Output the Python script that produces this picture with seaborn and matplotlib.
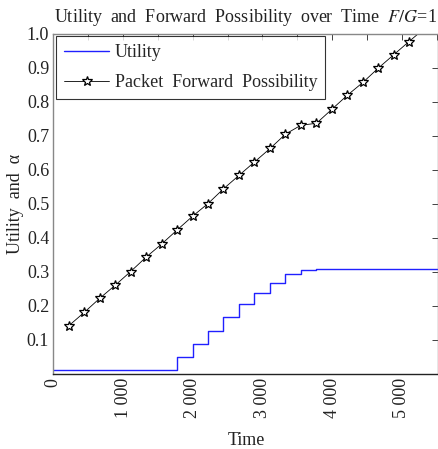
import matplotlib
matplotlib.use("Agg")
import matplotlib.pyplot as plt
import seaborn as sns
import pandas as pd
from matplotlib.ticker import MultipleLocator, FixedLocator

# ---- data ----
time_fwd = [220, 445, 665, 890, 1110, 1330, 1555, 1775, 2000, 2220, 2440, 2665,
            2885, 3110, 3330, 3550, 3775, 3995, 4215, 4440, 4660, 4880, 5100, 5325]
fwd_prob = [0.140, 0.180, 0.221, 0.260, 0.300, 0.342, 0.381, 0.422, 0.463, 0.500,
            0.543, 0.583, 0.622, 0.662, 0.704, 0.730, 0.736, 0.777, 0.818, 0.856,
            0.898, 0.937, 0.976, 1.015]

time_util = [0, 1775, 2000, 2220, 2440, 2665, 2885, 3110, 3330, 3550, 3775, 5600]
utility = [0.010, 0.048, 0.086, 0.124, 0.165, 0.204, 0.238, 0.267, 0.292, 0.304,
           0.307, 0.307]

x_major = [0, 1000, 2000, 3000, 4000, 5000]
x_labels = ["0", "1 000", "2 000", "3 000", "4 000", "5 000"]
y_ticks = [0.1, 0.2, 0.3, 0.4, 0.5, 0.6, 0.7, 0.8, 0.9, 1.0]
y_labels = ["0.1", "0.2", "0.3", "0.4", "0.5", "0.6", "0.7", "0.8", "0.9", "1.0"]

sns.set_style("white")
plt.rcParams["font.family"] = ["Liberation Serif", "DejaVu Serif"]
plt.rcParams["mathtext.fontset"] = "stix"

fig = plt.figure(figsize=(4.38, 4.49), dpi=100)
ax = fig.add_axes([53.3 / 438, 75.5 / 449, 385.2 / 438, 340 / 449])

df_u = pd.DataFrame({"t": time_util, "v": utility})
df_f = pd.DataFrame({"t": time_fwd, "v": fwd_prob})

sns.lineplot(data=df_u, x="t", y="v", ax=ax, color="#2020ff", linewidth=1.0,
             drawstyle="steps-post", label="Utility")
sns.lineplot(data=df_f, x="t", y="v", ax=ax, color="black", linewidth=0.6,
             marker="*", markersize=7.5, markerfacecolor="white",
             markeredgecolor="black", markeredgewidth=0.9,
             markevery=list(range(len(time_fwd) - 1)),
             label="Packet  Forward  Possibility")

ax.set_xlim(0, 5525)
ax.set_ylim(0, 1.0)
ax.xaxis.set_major_locator(FixedLocator(x_major))
ax.set_xticklabels(x_labels, rotation=90)
ax.xaxis.set_minor_locator(MultipleLocator(500))
ax.set_yticks(y_ticks)
ax.set_yticklabels(y_labels)

ax.tick_params(axis="both", which="both", direction="in", length=4, width=0.6,
               top=True, right=True, labelsize=13, colors="#222222", pad=3)
ax.tick_params(axis="both", which="minor", labelsize=0)

for side in ["left", "top", "right"]:
    ax.spines[side].set_color("#888888")
    ax.spines[side].set_linewidth(1.0)
ax.spines["bottom"].set_color("#222222")
ax.spines["bottom"].set_linewidth(1.0)

ax.set_xlabel("Time", fontsize=13, color="#222222", labelpad=10)
ax.set_ylabel("Utility  and  α", fontsize=13, color="#222222", labelpad=2)
ax.set_title("Utility  and  Forward  Possibility  over  Time  $F/G$=1",
             fontsize=13, color="#222222", pad=8)

leg = ax.legend(loc="upper left", fontsize=13, frameon=True, fancybox=False,
                borderaxespad=0.15, handlelength=2.5, borderpad=0.45,
                labelspacing=0.7, handletextpad=0.3)
leg.get_frame().set_edgecolor("black")
leg.get_frame().set_linewidth(0.8)

fig.savefig("out.png", dpi=100)
